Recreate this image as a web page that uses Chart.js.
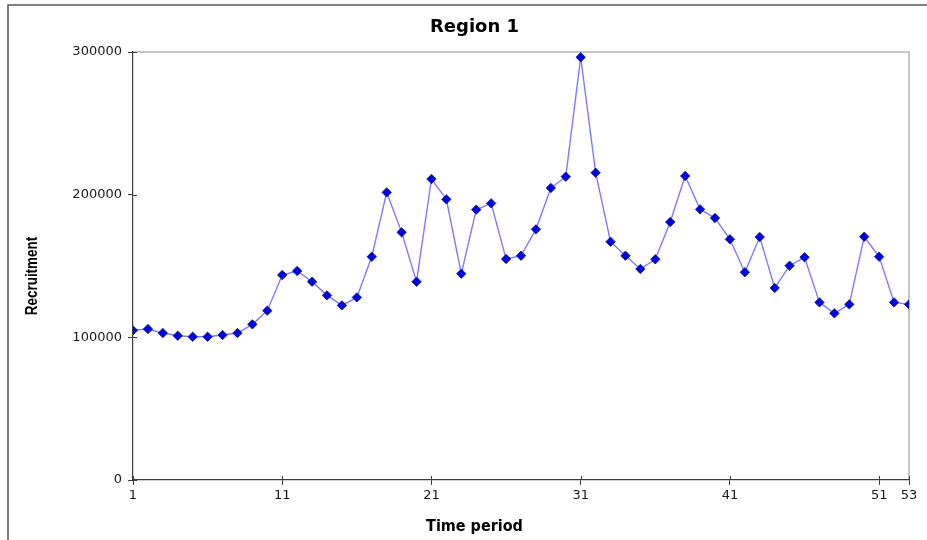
<!DOCTYPE html>
<html>
<head>
<meta charset="utf-8">
<title>Region 1</title>
<script src="https://cdn.jsdelivr.net/npm/chart.js@4.4.1/dist/chart.umd.min.js"></script>
<style>
  html, body { margin: 0; padding: 0; background: #fff; }
  #wrap { width: 927px; height: 540px; }
</style>
</head>
<body>
<div id="wrap"><canvas id="chart" width="927" height="540"></canvas></div>
<script>
// values
const periods = [
  1, 2, 3, 4, 5, 6, 7, 8, 9, 10,
  11, 12, 13, 14, 15, 16, 17, 18, 19, 20,
  21, 22, 23, 24, 25, 26, 27, 28, 29, 30,
  31, 32, 33, 34, 35, 36, 37, 38, 39, 40,
  41, 42, 43, 44, 45, 46, 47, 48, 49, 50,
  51, 52, 53
];
const recruitment = [
  104900, 105800, 103000, 101100, 100400, 100400, 101600, 103000, 109100, 118700,
  143700, 146500, 139000, 129400, 122400, 128000, 156500, 201600, 173600, 139000,
  211000, 196700, 144600, 189500, 193900, 154900, 157200, 175700, 204700, 212600,
  296300, 215400, 167000, 157200, 147900, 154700, 180800, 213100, 189700, 183600,
  168700, 145600, 170300, 134600, 150200, 156100, 124500, 116800, 123100, 170500,
  156500, 124500, 123100
];
const xTickValues = [1, 11, 21, 31, 41, 51, 53];
const yTickValues = [0, 100000, 200000, 300000];

const AXIS_DARK = '#3c3c3c';
const TICK_FONT = { family: 'DejaVu Sans', size: 13 };

// outer frame, grey top/right plot edges, y-axis title and inward tick halves
const framePlugin = {
    id: 'frame',
    beforeDraw(chart) {
        const ctx = chart.ctx;
        const a = chart.chartArea;
        ctx.save();
        ctx.strokeStyle = '#555';
        ctx.lineWidth = 1.5;
        ctx.beginPath();
        ctx.moveTo(8, chart.height);
        ctx.lineTo(8, 5);
        ctx.lineTo(chart.width, 5);
        ctx.stroke();

        ctx.strokeStyle = '#b4b4b4';
        ctx.lineWidth = 1.5;
        ctx.beginPath();
        ctx.moveTo(a.left, a.top);
        ctx.lineTo(a.right, a.top);
        ctx.lineTo(a.right, a.bottom);
        ctx.stroke();

        // condensed bold title, squeezed along the text direction
        ctx.translate(33, 276);
        ctx.rotate(-Math.PI / 2);
        ctx.scale(0.84, 1);
        ctx.fillStyle = '#000';
        ctx.font = 'bold 16px "Liberation Sans", Arial, sans-serif';
        ctx.textAlign = 'center';
        ctx.textBaseline = 'middle';
        ctx.fillText('Recruitment', 0, 0);
        ctx.restore();
    },
    beforeDatasetsDraw(chart) {
        const ctx = chart.ctx;
        const a = chart.chartArea;
        const xs = chart.scales.x;
        const ys = chart.scales.y;
        ctx.save();
        ctx.strokeStyle = AXIS_DARK;
        ctx.lineWidth = 1;
        ctx.beginPath();
        xTickValues.forEach(v => {
            const px = Math.round(xs.getPixelForValue(v)) + 0.5;
            ctx.moveTo(px, a.bottom);
            ctx.lineTo(px, a.bottom - 4);
        });
        yTickValues.forEach(v => {
            const py = Math.round(ys.getPixelForValue(v)) + 0.5;
            ctx.moveTo(a.left, py);
            ctx.lineTo(a.left + 4, py);
        });
        ctx.stroke();
        ctx.restore();
    }
};

const ctx = document.getElementById('chart').getContext('2d');
new Chart(ctx, {
    type: 'line',
    data: {
        datasets: [{
            label: 'Recruitment',
            data: periods.map((p, i) => ({ x: p, y: recruitment[i] })),
            borderColor: '#7c7cff',
            borderWidth: 1.4,
            backgroundColor: '#0000e6',
            pointStyle: 'rectRot',
            pointRadius: 4.7,
            pointBorderColor: '#141470',
            pointBorderWidth: 0.8,
            pointBackgroundColor: '#0000e6',
            tension: 0,
            fill: false
        }]
    },
    options: {
        responsive: false,
        animation: false,
        layout: {
            padding: { left: 40, right: 18, top: 0, bottom: 0 }
        },
        scales: {
            x: {
                type: 'linear',
                min: 1,
                max: 53,
                afterBuildTicks: (scale) => {
                    scale.ticks = xTickValues.map(v => ({ value: v }));
                },
                border: { display: true, color: AXIS_DARK, width: 1.2 },
                grid: {
                    display: true,
                    drawOnChartArea: false,
                    drawTicks: true,
                    tickLength: 5,
                    color: AXIS_DARK
                },
                ticks: {
                    autoSkip: false,
                    maxRotation: 0,
                    padding: 3,
                    color: '#1a1a1a',
                    font: TICK_FONT,
                    callback: (v) => String(v)
                }
            },
            y: {
                min: 0,
                max: 300000,
                afterBuildTicks: (scale) => {
                    scale.ticks = yTickValues.map(v => ({ value: v }));
                },
                afterFit: (scale) => {
                    scale.width = 93;
                },
                border: { display: true, color: AXIS_DARK, width: 1.2 },
                grid: {
                    display: true,
                    drawOnChartArea: false,
                    drawTicks: true,
                    tickLength: 5,
                    color: AXIS_DARK
                },
                ticks: {
                    padding: 6,
                    color: '#1a1a1a',
                    font: TICK_FONT,
                    callback: (v) => String(v)
                }
            }
        },
        plugins: {
            legend: { display: false },
            tooltip: { enabled: false },
            title: {
                display: true,
                text: 'Region 1',
                color: '#000',
                font: { family: 'DejaVu Sans', size: 18, weight: 'bold' },
                padding: { top: 16.2, bottom: 14.2 }
            },
            subtitle: {
                display: true,
                position: 'bottom',
                text: 'Time period',
                color: '#000',
                font: { family: 'DejaVu Sans Condensed', size: 16, weight: 'bold' },
                padding: { top: 10.2, bottom: 4 }
            }
        }
    },
    plugins: [framePlugin]
});
</script>
</body>
</html>
